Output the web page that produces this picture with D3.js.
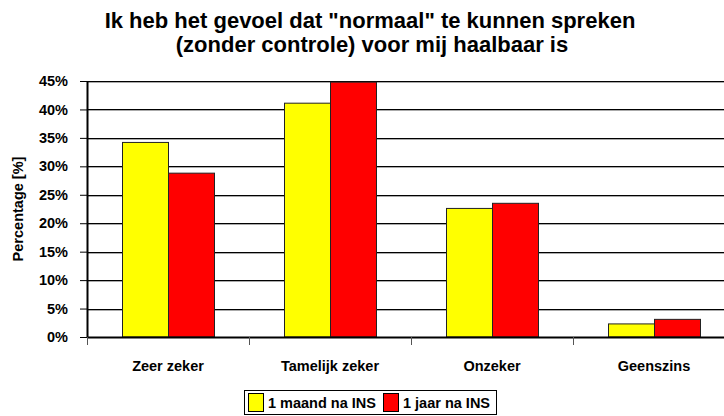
<!DOCTYPE html>
<html>
<head>
<meta charset="utf-8">
<script src="https://cdn.jsdelivr.net/npm/d3@7"></script>
<style>
  body { margin: 0; background: #fff; }
  svg text { font-family: "Liberation Sans", Arial, sans-serif !important; font-weight: bold; }
</style>
</head>
<body>
<div id="chart"></div>
<script>
// Data
const categories = ["Zeer zeker", "Tamelijk zeker", "Onzeker", "Geenszins"];
const seriesNames = ["1 maand na INS", "1 jaar na INS"];
const maand = [34.2, 41.1, 22.6, 2.3];
const jaar = [28.8, 44.8, 23.5, 3.1];
const yTicks = [0, 5, 10, 15, 20, 25, 30, 35, 40, 45];
const colors = ["#ffff00", "#ff0000"];

const W = 724, H = 416;
const margin = { top: 81, left: 87 };
const plotW = 648, plotH = 256;

const svg = d3.select("#chart").append("svg")
  .attr("width", W).attr("height", H);

// Title
svg.append("text").attr("x", 370).attr("y", 28).attr("text-anchor", "middle")
  .style("font-size", "22px").text('Ik heb het gevoel dat "normaal" te kunnen spreken');
svg.append("text").attr("x", 372).attr("y", 52).attr("text-anchor", "middle")
  .style("font-size", "22px").text("(zonder controle) voor mij haalbaar is");

const g = svg.append("g").attr("transform", `translate(${margin.left},${margin.top})`);

const x = d3.scaleBand().domain(categories).range([0, plotW]);
const y = d3.scaleLinear().domain([0, 45]).range([plotH, 0]);

// Grid lines
const grid = g.append("g");
yTicks.filter(t => t > 0).forEach(t => {
  grid.append("line").attr("x1", 0).attr("x2", plotW)
    .attr("y1", Math.round(y(t)) + 0.5).attr("y2", Math.round(y(t)) + 0.5)
    .attr("stroke", "#000").attr("stroke-width", 1);
  grid.append("line").attr("x1", 0).attr("x2", plotW)
    .attr("y1", Math.round(y(t)) + 1.5).attr("y2", Math.round(y(t)) + 1.5)
    .attr("stroke", "#aaa").attr("stroke-width", 1);
});

// Bars
const barW = 46;
const rows = categories.map((c, i) => ({ cat: c, vals: [maand[i], jaar[i]] }));
rows.forEach(r => {
  const cx = x(r.cat) + x.bandwidth() / 2;
  r.vals.forEach((v, k) => {
    g.append("rect")
      .attr("x", cx - barW + k * barW + 0.5)
      .attr("y", y(v))
      .attr("width", barW)
      .attr("height", plotH - y(v))
      .attr("fill", colors[k])
      .attr("stroke", "#222").attr("stroke-width", 1);
  });
});

// Y axis
const yAxis = g.append("g")
  .call(d3.axisLeft(y).tickValues(yTicks).tickFormat(d => d + "%").tickSize(7).tickSizeOuter(0));
yAxis.select(".domain").attr("stroke", "#000").attr("stroke-width", 2);
yAxis.selectAll(".tick line").attr("stroke", "#000");
yAxis.selectAll(".tick text").style("font-size", "14.5px").attr("fill", "#000").attr("x", -19);

// X axis
const xAxis = g.append("g").attr("transform", `translate(0,${plotH})`)
  .call(d3.axisBottom(x).tickSize(0).tickSizeOuter(0));
xAxis.select(".domain").attr("stroke", "#000").attr("stroke-width", 2);
xAxis.selectAll(".tick text").style("font-size", "14.5px").attr("fill", "#000").attr("dy", 0).attr("y", 34);
// category separators
categories.forEach(c => {
  g.append("line").attr("x1", x(c) + 0.5).attr("x2", x(c) + 0.5)
    .attr("y1", plotH).attr("y2", plotH + 8).attr("stroke", "#555").attr("stroke-width", 1);
});

// Y axis title
svg.append("text")
  .attr("transform", `translate(23,${margin.top + plotH / 2}) rotate(-90)`)
  .attr("text-anchor", "middle").style("font-size", "14.5px").text("Percentage [%]");

// Legend
const leg = svg.append("g");
leg.append("rect").attr("x", 244.5).attr("y", 390.5).attr("width", 252).attr("height", 24)
  .attr("fill", "#fff").attr("stroke", "#000");
const legX = [248, 383];
seriesNames.forEach((s, k) => {
  leg.append("rect").attr("x", legX[k] + 0.5).attr("y", 393.5).attr("width", 15).attr("height", 18)
    .attr("fill", colors[k]).attr("stroke", "#000");
  leg.append("text").attr("x", legX[k] + 20).attr("y", 408).style("font-size", "14.5px").text(s);
});
</script>
</body>
</html>
